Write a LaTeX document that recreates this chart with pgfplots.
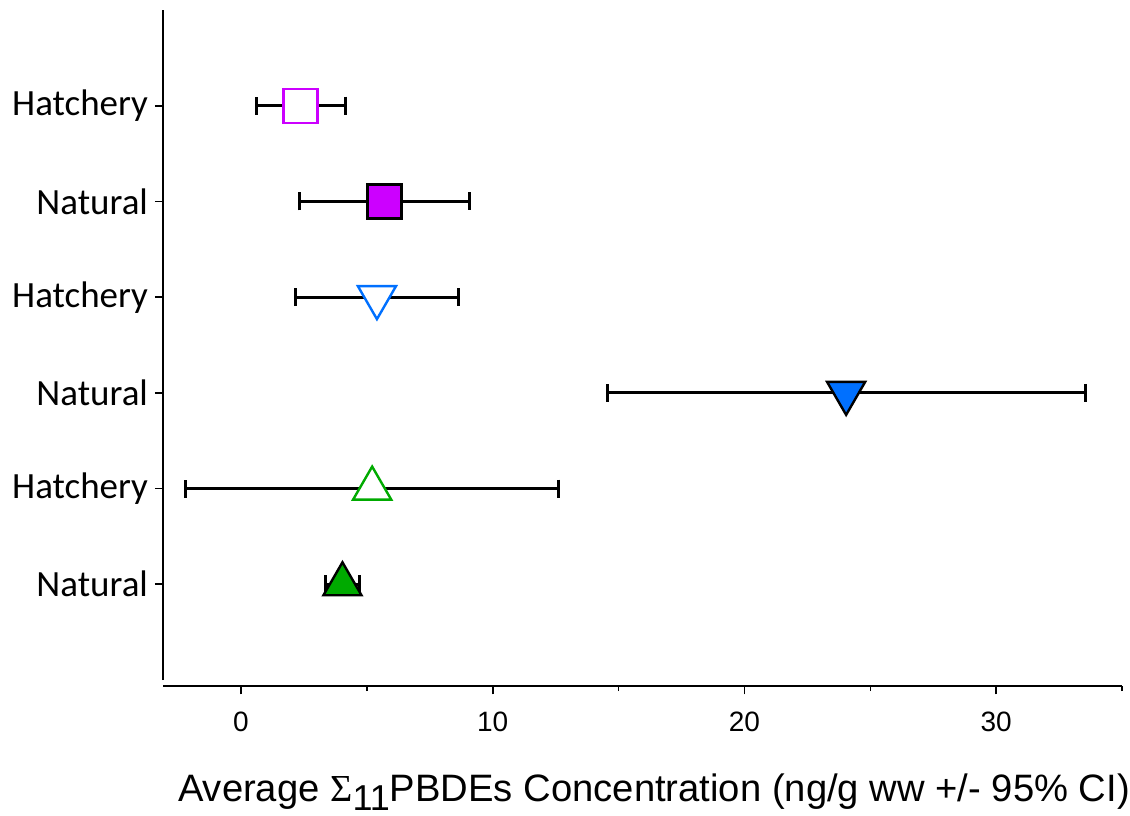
\documentclass[border=0pt]{standalone}
\usepackage{pgfplots}
\pgfplotsset{compat=1.18}
\usepackage{fontspec}
\setmainfont{Liberation Sans}
\newfontfamily\calibri{Carlito}
\newfontfamily\symfont{Liberation Serif}
\definecolor{mag}{RGB}{204,0,255}
\definecolor{blu}{RGB}{0,112,255}
\definecolor{grn}{RGB}{0,170,0}

\begin{document}
\begin{tikzpicture}
\path[use as bounding box] (-81.5pt,-67.5pt) rectangle (483.5pt,340pt);

% categories and markers
\begin{axis}[
    at={(0pt,0pt)}, anchor=south west,
    width=479.5pt, height=335pt, scale only axis,
    xmin=-3.1, xmax=35, ymin=0, ymax=7,
    axis x line=none, axis y line=left,
    axis line style={-, line width=1pt},
    ytick={1,...,6},
    yticklabels={Natural,Hatchery,Natural,Hatchery,Natural,Hatchery},
    tick align=outside, major tick length=4pt,
    ytick style={line width=0.8pt, black},
    yticklabel style={font=\calibri\fontsize{18.5}{20}\selectfont, anchor=east},
    clip=false,
    error bars/error bar style={line width=1.5pt, black},
    error bars/error mark options={line width=1.5pt, black, mark size=4.5pt, rotate=90},
]
% Hatchery, open square
\addplot[mark=square*, mark size=8.5pt, only marks,
    mark options={draw=mag, fill=white, line width=1.2pt},
    error bars/.cd, x dir=both, x explicit]
    coordinates {(2.37,6) +- (1.77,0)};
% Natural, filled square
\addplot[mark=square*, mark size=8.5pt, only marks,
    mark options={draw=black, fill=mag, line width=1.2pt},
    error bars/.cd, x dir=both, x explicit]
    coordinates {(5.70,5) +- (3.36,0)};
% Hatchery, open down triangle
\addplot[mark=triangle*, mark size=11pt, only marks,
    mark options={draw=blu, fill=white, line width=1.2pt, rotate=180},
    error bars/.cd, x dir=both, x explicit]
    coordinates {(5.40,4) +- (3.25,0)};
% Natural, filled down triangle
\addplot[mark=triangle*, mark size=11pt, only marks,
    mark options={draw=black, fill=blu, line width=1.2pt, rotate=180},
    error bars/.cd, x dir=both, x explicit]
    coordinates {(24.04,3) +- (9.50,0)};
% Hatchery, open up triangle
\addplot[mark=triangle*, mark size=11pt, only marks,
    mark options={draw=grn, fill=white, line width=1.2pt},
    error bars/.cd, x dir=both, x explicit]
    coordinates {(5.21,2) +- (7.42,0)};
% Natural, filled up triangle
\addplot[mark=triangle*, mark size=11pt, only marks,
    mark options={draw=black, fill=grn, line width=1.2pt},
    error bars/.cd, x dir=both, x explicit]
    coordinates {(4.03,1) +- (0.69,0)};
\end{axis}

% detached x axis
\begin{axis}[
    at={(0pt,-3pt)}, anchor=south west,
    width=479.5pt, height=10pt, scale only axis,
    xmin=-3.1, xmax=35, ymin=0, ymax=1,
    axis x line=bottom, axis y line=none,
    axis line style={-, line width=1pt},
    xtick={0,10,20,30}, minor xtick={5,15,25,35},
    tick align=outside, major tick length=4.2pt, minor tick length=2.5pt,
    every tick/.style={black, line width=0.8pt},
    xticklabel style={font=\fontsize{14}{16}\selectfont, yshift=-5pt},
    /pgf/number format/assume math mode=true,
]
\addplot[draw=none] coordinates {(0,0)};
\end{axis}

\node[anchor=base, inner sep=0pt, font=\fontsize{19.1}{22}\selectfont] at (245.5pt,-60.5pt)
    {Average {\symfont Σ}\raisebox{-0.25em}{\fontsize{18}{20}\selectfont 11}PBDEs Concentration (ng/g ww +/- 95\% CI)};
\end{tikzpicture}
\end{document}
